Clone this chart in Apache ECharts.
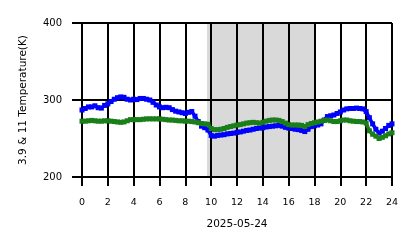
<!DOCTYPE html>
<html>
<head>
<meta charset="utf-8">
<script src="https://cdn.jsdelivr.net/npm/echarts@6/dist/echarts.min.js"></script>
<style>
  html, body { margin: 0; padding: 0; background: #fff; }
  #main { width: 418px; height: 248px; }
</style>
</head>
<body>
<div id="main"></div>
<script>
// hours of the day, every 15 minutes
const hours = []
for (let i = 0; i <= 96; i++) hours.push(i / 4)

// 11 um brightness temperature (K), blue
const t11 = [
  287, 289, 291, 291, 292.5, 290, 289.5, 293, 295, 298, 301, 303, 304, 303.5, 301, 300,
  301, 300.5, 302, 302, 301, 300, 297, 293.5, 291, 290, 290.5, 290, 287.5, 285.5, 284.5, 283.5,
  282.5, 284, 285, 279, 272, 266, 264, 261, 254, 253, 254, 254.5, 255, 256, 256.5, 257,
  258, 258.5, 259.5, 260.5, 261, 262, 263, 263.5, 264, 265, 265.5, 266, 266.5, 267, 266, 264.5,
  263.5, 263, 262, 261.5, 260.5, 259, 262, 265.5, 266.5, 267.5, 269, 274, 278.5, 279.5, 280.5, 282.5,
  284.5, 287, 288.5, 289, 289, 289.5, 289, 288.5, 285, 277, 269, 262, 257, 259.5, 263, 267, 269
]

// 3.9 um brightness temperature (K), green
const t39 = [
  272.5, 272.5, 273, 273.5, 273, 272.5, 272.5, 273, 273, 272.5, 272, 271.5, 271, 271.5, 273, 274.5,
  274.5, 274.5, 274.5, 275, 275.5, 275.5, 275.5, 275.5, 275.5, 275, 274.5, 274, 274, 273.5, 273, 273,
  272.5, 272.5, 272, 271.5, 270.5, 269.5, 269, 268.5, 263, 261.5, 261.5, 262, 263, 264.5, 265.5, 266.5,
  267.5, 268, 269, 270, 270.5, 271, 270.5, 270, 271, 272.5, 273.5, 274, 274, 273.5, 272, 270,
  268, 267.5, 267.5, 267.5, 267, 265.5, 268, 269.5, 270.5, 271.5, 272.5, 273.5, 274, 273, 272, 272,
  273, 274, 274, 273, 272.5, 272, 272, 271.5, 270, 260, 255.5, 253, 250, 251.5, 253.5, 256, 257.5
]

// night-time shading (hours)
const night = [9.68, 18.06]

const xTicks = [0, 24, 2]
const yTicks = [200, 400, 100]

const pairs = (ys) => hours.map((h, i) => [h, ys[i]])

const font = 'DejaVu Sans'
const black = '#000'

const chart = echarts.init(document.getElementById('main'))
chart.setOption({
  animation: false,
  grid: { left: 82, right: 26, top: 23, bottom: 71 },
  xAxis: {
    type: 'value',
    z: 1,
    min: xTicks[0], max: xTicks[1], interval: xTicks[2],
    name: '2025-05-24',
    nameLocation: 'middle',
    nameGap: 42,
    nameTextStyle: { fontFamily: font, fontSize: 10.5, color: black },
    axisLine: { show: true, onZero: false, lineStyle: { color: black, width: 2 } },
    axisTick: { show: true, length: 9, lineStyle: { color: black, width: 2 } },
    axisLabel: { fontFamily: font, fontSize: 9.5, color: black, margin: 21 },
    splitLine: { show: true, lineStyle: { color: black, width: 2 } }
  },
  yAxis: {
    type: 'value',
    z: 1,
    min: yTicks[0], max: yTicks[1], interval: yTicks[2],
    name: '3.9 & 11 Temperature(K)',
    nameLocation: 'middle',
    nameGap: 53,
    nameTextStyle: { fontFamily: font, fontSize: 10.5, color: black },
    axisLine: { show: true, lineStyle: { color: black, width: 2 } },
    axisTick: { show: true, length: 10, lineStyle: { color: black, width: 2 } },
    axisLabel: { fontFamily: font, fontSize: 10, color: black, margin: 20 },
    splitLine: { show: true, lineStyle: { color: black, width: 2 } }
  },
  series: [
    {
      // only carries the gray band, kept under the grid lines
      type: 'line',
      z: 0,
      data: [],
      markArea: {
        silent: true,
        z: 0,
        itemStyle: { color: '#d9d9d9' },
        data: [[{ xAxis: night[0] }, { xAxis: night[1] }]]
      }
    },
    {
      name: '11',
      type: 'line',
      data: pairs(t11),
      symbol: 'rect',
      symbolSize: 5,
      itemStyle: { color: '#0000ff' },
      lineStyle: { color: '#0000ff', width: 3.5 }
    },
    {
      name: '3.9',
      type: 'line',
      data: pairs(t39),
      symbol: 'rect',
      symbolSize: 5,
      itemStyle: { color: '#1a7f1a' },
      lineStyle: { color: '#1a7f1a', width: 3.5 }
    }
  ]
})
</script>
</body>
</html>
